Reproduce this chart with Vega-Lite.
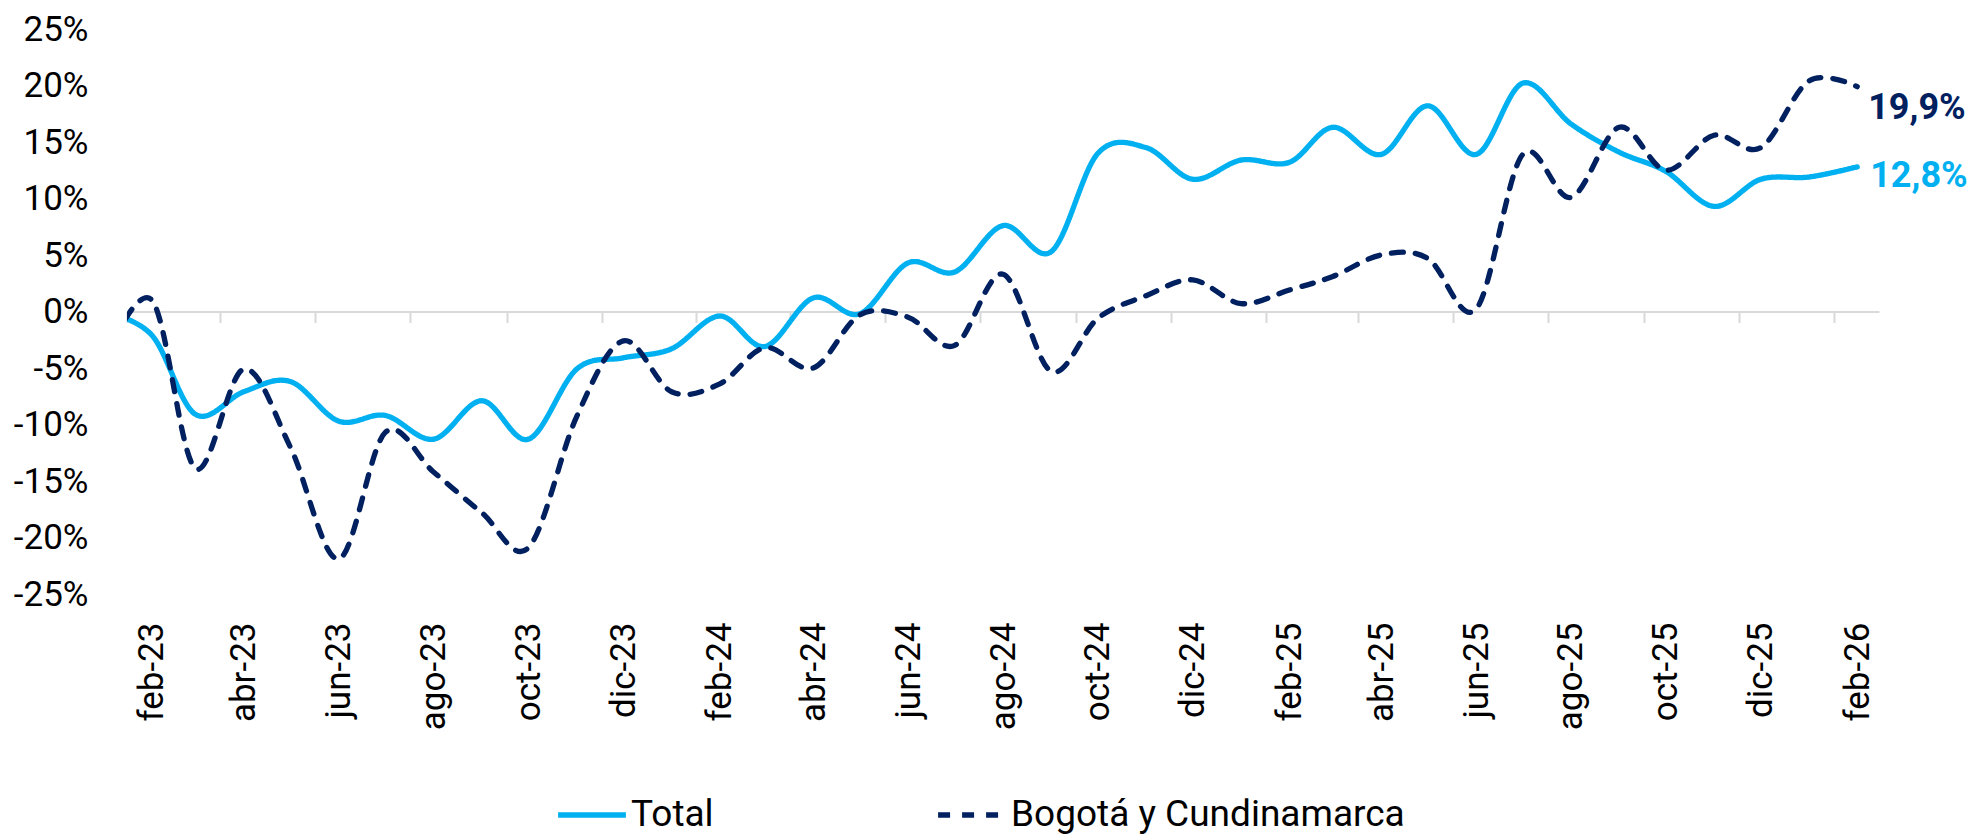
{
  "$schema": "https://vega.github.io/schema/vega-lite/v6.json",
  "width": 1752,
  "height": 565,
  "padding": {"left": 13, "top": 12, "right": 4, "bottom": 8},
  "background": "white",
  "config": {
    "font": "Roboto",
    "view": {"stroke": null},
    "locale": {
      "number": {"decimal": ",", "thousands": ".", "grouping": [3], "currency": ["$", ""], "minus": "-"}
    }
  },
  "data": {
    "values": [
      {"fecha": "2023-01-01T00:00:00", "serie": "Total", "valor": 0.000},
      {"fecha": "2023-02-01T00:00:00", "serie": "Total", "valor": -0.021},
      {"fecha": "2023-03-01T00:00:00", "serie": "Total", "valor": -0.091},
      {"fecha": "2023-04-01T00:00:00", "serie": "Total", "valor": -0.071},
      {"fecha": "2023-05-01T00:00:00", "serie": "Total", "valor": -0.062},
      {"fecha": "2023-06-01T00:00:00", "serie": "Total", "valor": -0.097},
      {"fecha": "2023-07-01T00:00:00", "serie": "Total", "valor": -0.092},
      {"fecha": "2023-08-01T00:00:00", "serie": "Total", "valor": -0.113},
      {"fecha": "2023-09-01T00:00:00", "serie": "Total", "valor": -0.079},
      {"fecha": "2023-10-01T00:00:00", "serie": "Total", "valor": -0.113},
      {"fecha": "2023-11-01T00:00:00", "serie": "Total", "valor": -0.051},
      {"fecha": "2023-12-01T00:00:00", "serie": "Total", "valor": -0.041},
      {"fecha": "2024-01-01T00:00:00", "serie": "Total", "valor": -0.033},
      {"fecha": "2024-02-01T00:00:00", "serie": "Total", "valor": -0.004},
      {"fecha": "2024-03-01T00:00:00", "serie": "Total", "valor": -0.031},
      {"fecha": "2024-04-01T00:00:00", "serie": "Total", "valor": 0.012},
      {"fecha": "2024-05-01T00:00:00", "serie": "Total", "valor": -0.002},
      {"fecha": "2024-06-01T00:00:00", "serie": "Total", "valor": 0.043},
      {"fecha": "2024-07-01T00:00:00", "serie": "Total", "valor": 0.035},
      {"fecha": "2024-08-01T00:00:00", "serie": "Total", "valor": 0.076},
      {"fecha": "2024-09-01T00:00:00", "serie": "Total", "valor": 0.053},
      {"fecha": "2024-10-01T00:00:00", "serie": "Total", "valor": 0.140},
      {"fecha": "2024-11-01T00:00:00", "serie": "Total", "valor": 0.145},
      {"fecha": "2024-12-01T00:00:00", "serie": "Total", "valor": 0.117},
      {"fecha": "2025-01-01T00:00:00", "serie": "Total", "valor": 0.134},
      {"fecha": "2025-02-01T00:00:00", "serie": "Total", "valor": 0.132},
      {"fecha": "2025-03-01T00:00:00", "serie": "Total", "valor": 0.163},
      {"fecha": "2025-04-01T00:00:00", "serie": "Total", "valor": 0.139},
      {"fecha": "2025-05-01T00:00:00", "serie": "Total", "valor": 0.182},
      {"fecha": "2025-06-01T00:00:00", "serie": "Total", "valor": 0.139},
      {"fecha": "2025-07-01T00:00:00", "serie": "Total", "valor": 0.202},
      {"fecha": "2025-08-01T00:00:00", "serie": "Total", "valor": 0.166},
      {"fecha": "2025-09-01T00:00:00", "serie": "Total", "valor": 0.141},
      {"fecha": "2025-10-01T00:00:00", "serie": "Total", "valor": 0.124},
      {"fecha": "2025-11-01T00:00:00", "serie": "Total", "valor": 0.093},
      {"fecha": "2025-12-01T00:00:00", "serie": "Total", "valor": 0.117},
      {"fecha": "2026-01-01T00:00:00", "serie": "Total", "valor": 0.119},
      {"fecha": "2026-02-01T00:00:00", "serie": "Total", "valor": 0.128},
      {"fecha": "2023-01-01T00:00:00", "serie": "Bogotá y Cundinamarca", "valor": -0.045},
      {"fecha": "2023-02-01T00:00:00", "serie": "Bogotá y Cundinamarca", "valor": 0.010},
      {"fecha": "2023-03-01T00:00:00", "serie": "Bogotá y Cundinamarca", "valor": -0.139},
      {"fecha": "2023-04-01T00:00:00", "serie": "Bogotá y Cundinamarca", "valor": -0.051},
      {"fecha": "2023-05-01T00:00:00", "serie": "Bogotá y Cundinamarca", "valor": -0.120},
      {"fecha": "2023-06-01T00:00:00", "serie": "Bogotá y Cundinamarca", "valor": -0.219},
      {"fecha": "2023-07-01T00:00:00", "serie": "Bogotá y Cundinamarca", "valor": -0.107},
      {"fecha": "2023-08-01T00:00:00", "serie": "Bogotá y Cundinamarca", "valor": -0.142},
      {"fecha": "2023-09-01T00:00:00", "serie": "Bogotá y Cundinamarca", "valor": -0.178},
      {"fecha": "2023-10-01T00:00:00", "serie": "Bogotá y Cundinamarca", "valor": -0.209},
      {"fecha": "2023-11-01T00:00:00", "serie": "Bogotá y Cundinamarca", "valor": -0.093},
      {"fecha": "2023-12-01T00:00:00", "serie": "Bogotá y Cundinamarca", "valor": -0.026},
      {"fecha": "2024-01-01T00:00:00", "serie": "Bogotá y Cundinamarca", "valor": -0.071},
      {"fecha": "2024-02-01T00:00:00", "serie": "Bogotá y Cundinamarca", "valor": -0.064},
      {"fecha": "2024-03-01T00:00:00", "serie": "Bogotá y Cundinamarca", "valor": -0.032},
      {"fecha": "2024-04-01T00:00:00", "serie": "Bogotá y Cundinamarca", "valor": -0.050},
      {"fecha": "2024-05-01T00:00:00", "serie": "Bogotá y Cundinamarca", "valor": -0.003},
      {"fecha": "2024-06-01T00:00:00", "serie": "Bogotá y Cundinamarca", "valor": -0.005},
      {"fecha": "2024-07-01T00:00:00", "serie": "Bogotá y Cundinamarca", "valor": -0.030},
      {"fecha": "2024-08-01T00:00:00", "serie": "Bogotá y Cundinamarca", "valor": 0.033},
      {"fecha": "2024-09-01T00:00:00", "serie": "Bogotá y Cundinamarca", "valor": -0.053},
      {"fecha": "2024-10-01T00:00:00", "serie": "Bogotá y Cundinamarca", "valor": -0.006},
      {"fecha": "2024-11-01T00:00:00", "serie": "Bogotá y Cundinamarca", "valor": 0.014},
      {"fecha": "2024-12-01T00:00:00", "serie": "Bogotá y Cundinamarca", "valor": 0.028},
      {"fecha": "2025-01-01T00:00:00", "serie": "Bogotá y Cundinamarca", "valor": 0.007},
      {"fecha": "2025-02-01T00:00:00", "serie": "Bogotá y Cundinamarca", "valor": 0.019},
      {"fecha": "2025-03-01T00:00:00", "serie": "Bogotá y Cundinamarca", "valor": 0.031},
      {"fecha": "2025-04-01T00:00:00", "serie": "Bogotá y Cundinamarca", "valor": 0.050},
      {"fecha": "2025-05-01T00:00:00", "serie": "Bogotá y Cundinamarca", "valor": 0.047},
      {"fecha": "2025-06-01T00:00:00", "serie": "Bogotá y Cundinamarca", "valor": 0.002},
      {"fecha": "2025-07-01T00:00:00", "serie": "Bogotá y Cundinamarca", "valor": 0.139},
      {"fecha": "2025-08-01T00:00:00", "serie": "Bogotá y Cundinamarca", "valor": 0.101},
      {"fecha": "2025-09-01T00:00:00", "serie": "Bogotá y Cundinamarca", "valor": 0.163},
      {"fecha": "2025-10-01T00:00:00", "serie": "Bogotá y Cundinamarca", "valor": 0.125},
      {"fecha": "2025-11-01T00:00:00", "serie": "Bogotá y Cundinamarca", "valor": 0.156},
      {"fecha": "2025-12-01T00:00:00", "serie": "Bogotá y Cundinamarca", "valor": 0.145},
      {"fecha": "2026-01-01T00:00:00", "serie": "Bogotá y Cundinamarca", "valor": 0.204},
      {"fecha": "2026-02-01T00:00:00", "serie": "Bogotá y Cundinamarca", "valor": 0.199}
    ]
  },
  "resolve": {"axis": {"x": "independent"}},
  "layer": [
    {
      "mark": {"type": "line", "interpolate": "cardinal", "tension": 0, "strokeWidth": 5.3, "strokeCap": "round", "clip": true},
      "encoding": {
        "x": {
          "field": "fecha", "type": "temporal",
          "scale": {"domain": [{"year": 2023, "month": 1, "date": 16}, {"year": 2026, "month": 2, "date": 15}]},
          "axis": {
            "orient": "bottom", "title": null, "grid": false, "domain": false, "ticks": false, "tickSize": 0,
            "values": [
              {"year": 2023, "month": 2, "date": 1}, {"year": 2023, "month": 4, "date": 1}, {"year": 2023, "month": 6, "date": 1},
              {"year": 2023, "month": 8, "date": 1}, {"year": 2023, "month": 10, "date": 1}, {"year": 2023, "month": 12, "date": 1},
              {"year": 2024, "month": 2, "date": 1}, {"year": 2024, "month": 4, "date": 1}, {"year": 2024, "month": 6, "date": 1},
              {"year": 2024, "month": 8, "date": 1}, {"year": 2024, "month": 10, "date": 1}, {"year": 2024, "month": 12, "date": 1},
              {"year": 2025, "month": 2, "date": 1}, {"year": 2025, "month": 4, "date": 1}, {"year": 2025, "month": 6, "date": 1},
              {"year": 2025, "month": 8, "date": 1}, {"year": 2025, "month": 10, "date": 1}, {"year": 2025, "month": 12, "date": 1},
              {"year": 2026, "month": 2, "date": 1}
            ],
            "labelExpr": "['ene','feb','mar','abr','may','jun','jul','ago','sep','oct','nov','dic'][month(datum.value)] + '-' + timeFormat(datum.value, '%y')",
            "labelAngle": -90, "labelAlign": "right", "labelBaseline": "middle",
            "labelFontSize": 35, "labelFont": "Roboto", "labelColor": "#000000", "labelPadding": 28,
            "labelOverlap": false, "labelFlush": false, "labelBound": false
          }
        },
        "y": {
          "field": "valor", "type": "quantitative",
          "scale": {"domain": [-0.25, 0.25], "nice": false, "zero": false},
          "axis": {
            "title": null, "grid": false, "domain": false, "ticks": false,
            "values": [-0.25, -0.2, -0.15, -0.1, -0.05, 0, 0.05, 0.1, 0.15, 0.2, 0.25],
            "labelExpr": "replace(format(datum.value, '.0%'), '\u2212', '-')",
            "labelFontSize": 35, "labelFont": "Roboto", "labelColor": "#000000", "labelPadding": 39,
            "labelOverlap": false, "labelFlush": false
          }
        },
        "color": {
          "field": "serie", "type": "nominal",
          "scale": {"domain": ["Total", "Bogotá y Cundinamarca"], "range": ["#00B0F0", "#002060"]},
          "legend": {
            "orient": "none", "legendX": 428, "legendY": 749, "direction": "horizontal", "title": null,
            "symbolType": "stroke", "symbolSize": 4600, "symbolStrokeWidth": 5.3,
            "labelFontSize": 37, "labelFont": "Roboto", "labelColor": "#000000", "labelLimit": 0,
            "labelOffset": 2, "columnPadding": 213, "padding": 0
          }
        },
        "strokeDash": {
          "field": "serie", "type": "nominal",
          "scale": {"domain": ["Total", "Bogotá y Cundinamarca"], "range": [[1, 0], [12, 12]]},
          "legend": {
            "orient": "none", "legendX": 428, "legendY": 749, "direction": "horizontal", "title": null,
            "symbolType": "stroke", "symbolSize": 4600, "symbolStrokeWidth": 5.3,
            "labelFontSize": 37, "labelFont": "Roboto", "labelColor": "#000000", "labelLimit": 0,
            "labelOffset": 2, "columnPadding": 213, "padding": 0
          }
        }
      }
    },
    {
      "transform": [{"filter": "datum.serie == 'Bogotá y Cundinamarca' && year(datum.fecha) == 2026 && month(datum.fecha) == 1"}],
      "mark": {"type": "text", "align": "left", "baseline": "middle", "dx": 11, "dy": 21, "fontSize": 36, "fontWeight": "bold", "font": "Roboto", "color": "#002060"},
      "encoding": {
        "x": {
          "field": "fecha", "type": "temporal",
          "axis": {
            "orient": "bottom", "offset": -282.5, "title": null, "grid": false, "labels": false,
            "domain": true, "domainColor": "#D9D9D9", "domainWidth": 2,
            "ticks": true, "tickColor": "#D9D9D9", "tickWidth": 2, "tickSize": 11,
            "values": [
              {"year": 2023, "month": 1, "date": 16}, {"year": 2023, "month": 3, "date": 17}, {"year": 2023, "month": 5, "date": 17},
              {"year": 2023, "month": 7, "date": 17}, {"year": 2023, "month": 9, "date": 17}, {"year": 2023, "month": 11, "date": 17},
              {"year": 2024, "month": 1, "date": 17}, {"year": 2024, "month": 3, "date": 17}, {"year": 2024, "month": 5, "date": 17},
              {"year": 2024, "month": 7, "date": 17}, {"year": 2024, "month": 9, "date": 17}, {"year": 2024, "month": 11, "date": 17},
              {"year": 2025, "month": 1, "date": 17}, {"year": 2025, "month": 3, "date": 17}, {"year": 2025, "month": 5, "date": 17},
              {"year": 2025, "month": 7, "date": 17}, {"year": 2025, "month": 9, "date": 17}, {"year": 2025, "month": 11, "date": 17},
              {"year": 2026, "month": 1, "date": 17}
            ]
          }
        },
        "y": {"field": "valor", "type": "quantitative"},
        "text": {"field": "valor", "type": "quantitative", "format": ".1%"}
      }
    },
    {
      "transform": [{"filter": "datum.serie == 'Total' && year(datum.fecha) == 2026 && month(datum.fecha) == 1"}],
      "mark": {"type": "text", "align": "left", "baseline": "middle", "dx": 13, "dy": 9, "fontSize": 36, "fontWeight": "bold", "font": "Roboto", "color": "#00B0F0"},
      "encoding": {
        "x": {"field": "fecha", "type": "temporal", "axis": null},
        "y": {"field": "valor", "type": "quantitative"},
        "text": {"field": "valor", "type": "quantitative", "format": ".1%"}
      }
    }
  ]
}
